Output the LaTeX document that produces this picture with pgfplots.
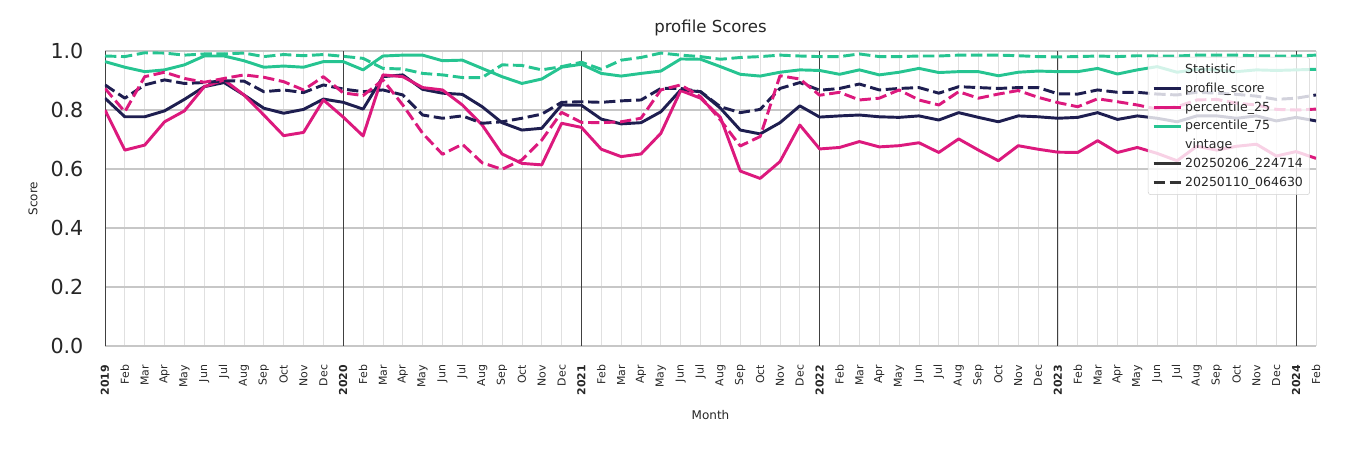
\documentclass[border=0pt]{standalone}
\usepackage{pgfplots}
\pgfplotsset{compat=1.18}
\usepackage{pgfplotstable}
\usepackage{fontspec}
\setmainfont{DejaVu Sans}

\definecolor{navy}{RGB}{30,30,80}
\definecolor{pinkc}{RGB}{220,25,125}
\definecolor{greenc}{RGB}{38,196,145}
\definecolor{txt}{RGB}{38,38,38}

% i, profile_score, p25, p75 (vintage 20250206) and the same for vintage 20250110
\pgfplotstableread{
i  ps   p25  p75  psd  p25d p75d
0  .840 .800 .964 .885 .873 .983
1  .777 .664 .945 .840 .794 .981
2  .777 .681 .930 .885 .913 .994
3  .797 .760 .936 .902 .928 .993
4  .836 .797 .953 .890 .907 .986
5  .879 .879 .983 .893 .894 .990
6  .893 .902 .983 .899 .907 .990
7  .851 .851 .967 .898 .919 .993
8  .806 .783 .945 .862 .911 .981
9  .789 .713 .949 .868 .896 .988
10 .802 .724 .945 .859 .868 .984
11 .837 .834 .964 .885 .913 .988
12 .826 .776 .964 .871 .858 .982
13 .803 .712 .936 .862 .849 .975
14 .913 .919 .983 .868 .902 .941
15 .919 .913 .986 .851 .817 .939
16 .870 .876 .986 .783 .721 .924
17 .857 .868 .967 .772 .650 .919
18 .853 .817 .969 .780 .684 .910
19 .811 .749 .941 .755 .621 .910
20 .757 .651 .913 .760 .599 .953
21 .732 .619 .890 .772 .631 .951
22 .738 .614 .905 .786 .698 .936
23 .817 .755 .945 .826 .792 .947
24 .816 .741 .955 .828 .758 .962
25 .769 .667 .924 .826 .757 .938
26 .753 .642 .915 .831 .760 .969
27 .757 .651 .924 .834 .772 .978
28 .794 .721 .932 .873 .868 .993
29 .868 .866 .973 .873 .885 .986
30 .862 .840 .972 .862 .845 .981
31 .806 .775 .947 .811 .766 .972
32 .732 .593 .921 .791 .678 .978
33 .719 .568 .915 .802 .710 .981
34 .757 .625 .928 .873 .916 .986
35 .814 .749 .936 .893 .905 .983
36 .776 .668 .934 .867 .850 .981
37 .780 .673 .921 .873 .860 .981
38 .783 .693 .936 .888 .834 .990
39 .777 .675 .919 .868 .840 .981
40 .775 .679 .928 .873 .868 .981
41 .780 .689 .941 .876 .834 .983
42 .766 .656 .927 .857 .817 .983
43 .791 .702 .930 .879 .862 .986
44 .775 .664 .930 .876 .840 .986
45 .760 .628 .916 .873 .854 .986
46 .780 .679 .928 .876 .866 .984
47 .777 .667 .932 .876 .843 .981
48 .772 .657 .930 .855 .825 .980
49 .775 .656 .930 .854 .811 .981
50 .791 .696 .941 .868 .838 .983
51 .768 .656 .922 .860 .828 .981
52 .780 .673 .936 .860 .817 .984
53 .772 .653 .947 .854 .803 .983
54 .760 .628 .928 .851 .811 .983
55 .780 .677 .938 .860 .834 .986
56 .780 .664 .936 .857 .836 .986
57 .772 .677 .930 .853 .823 .986
58 .780 .684 .936 .847 .817 .984
59 .763 .644 .934 .836 .802 .983
60 .775 .659 .936 .840 .800 .983
61 .763 .636 .938 .851 .803 .986
}\scores

\begin{document}
\begin{tikzpicture}
\path (0pt,0pt) rectangle (1012.5pt,337.5pt);
\begin{axis}[
  at={(78.75pt,78pt)}, anchor=south west,
  scale only axis, width=908.25pt, height=221.25pt,
  xmin=0, xmax=61, ymin=0, ymax=1,
  axis line style={draw=none},
  major tick length=0pt,
  xtick={0,...,61},
  xticklabels={\textbf{2019},Feb,Mar,Apr,May,Jun,Jul,Aug,Sep,Oct,Nov,Dec,
    \textbf{2020},Feb,Mar,Apr,May,Jun,Jul,Aug,Sep,Oct,Nov,Dec,
    \textbf{2021},Feb,Mar,Apr,May,Jun,Jul,Aug,Sep,Oct,Nov,Dec,
    \textbf{2022},Feb,Mar,Apr,May,Jun,Jul,Aug,Sep,Oct,Nov,Dec,
    \textbf{2023},Feb,Mar,Apr,May,Jun,Jul,Aug,Sep,Oct,Nov,Dec,
    \textbf{2024},Feb},
  xticklabel style={rotate=90, anchor=east, inner sep=0pt, font=\fontsize{8.2}{9}\selectfont, text=txt},
  xticklabel shift=14pt,
  ytick={0,0.2,0.4,0.6,0.8,1.0},
  yticklabel style={/pgf/number format/fixed, /pgf/number format/fixed zerofill,
    /pgf/number format/precision=1, /pgf/number format/assume math mode=true,
    inner sep=0pt, font=\fontsize{15.5}{17}\selectfont, text=txt},
  yticklabel shift=16pt,
  xmajorgrids, ymajorgrids,
  x grid style={draw=black!12, line width=0.6pt},
  y grid style={draw=black!22, line width=1.4pt},
  extra x ticks={0,12,24,36,48,60},
  extra x tick labels={},
  extra x tick style={grid=major, x grid style={draw=black!75, line width=0.7pt}},
  title={profile Scores},
  title style={at={(0.5,1)}, anchor=base, yshift=8pt, font=\fontsize{12.4}{14}\selectfont, text=txt},
  xlabel={Month},
  xlabel style={at={(axis description cs:0.5,-0.234)}, anchor=center, font=\fontsize{9}{10}\selectfont, text=txt},
  ylabel={Score},
  ylabel style={at={(axis description cs:-0.0595,0.5)}, anchor=center, font=\fontsize{9}{10}\selectfont, text=txt},
  legend cell align=left,
  legend image code/.code={\draw[#1] (0cm,0cm) -- (0.72cm,0cm);},
  legend style={at={(0.995,0.98)}, anchor=north east, draw=black!18, fill=white,
    fill opacity=0.8, draw opacity=1, text opacity=1, rounded corners=2pt,
    font=\fontsize{9.4}{11}\selectfont, text=txt, row sep=1.5pt, inner sep=3pt},
  every axis plot/.append style={line width=2.2pt, line join=round},
]
\addplot[navy, forget plot] table[x=i, y=ps] {\scores};
\addplot[pinkc, forget plot] table[x=i, y=p25] {\scores};
\addplot[greenc, forget plot] table[x=i, y=p75] {\scores};
\addplot[navy, dash pattern=on 8.5pt off 3.5pt, forget plot] table[x=i, y=psd] {\scores};
\addplot[pinkc, dash pattern=on 8.5pt off 3.5pt, forget plot] table[x=i, y=p25d] {\scores};
\addplot[greenc, dash pattern=on 8.5pt off 3.5pt, forget plot] table[x=i, y=p75d] {\scores};

\addlegendimage{empty legend}
\addlegendimage{navy, line width=2.2pt}
\addlegendimage{pinkc, line width=2.2pt}
\addlegendimage{greenc, line width=2.2pt}
\addlegendimage{empty legend}
\addlegendimage{black!80, line width=2.2pt}
\addlegendimage{black!80, line width=2.2pt, dash pattern=on 8.5pt off 3.5pt}
\legend{Statistic, profile\_score, percentile\_25, percentile\_75, vintage, 20250206\_224714, 20250110\_064630}
\end{axis}
\end{tikzpicture}
\end{document}
